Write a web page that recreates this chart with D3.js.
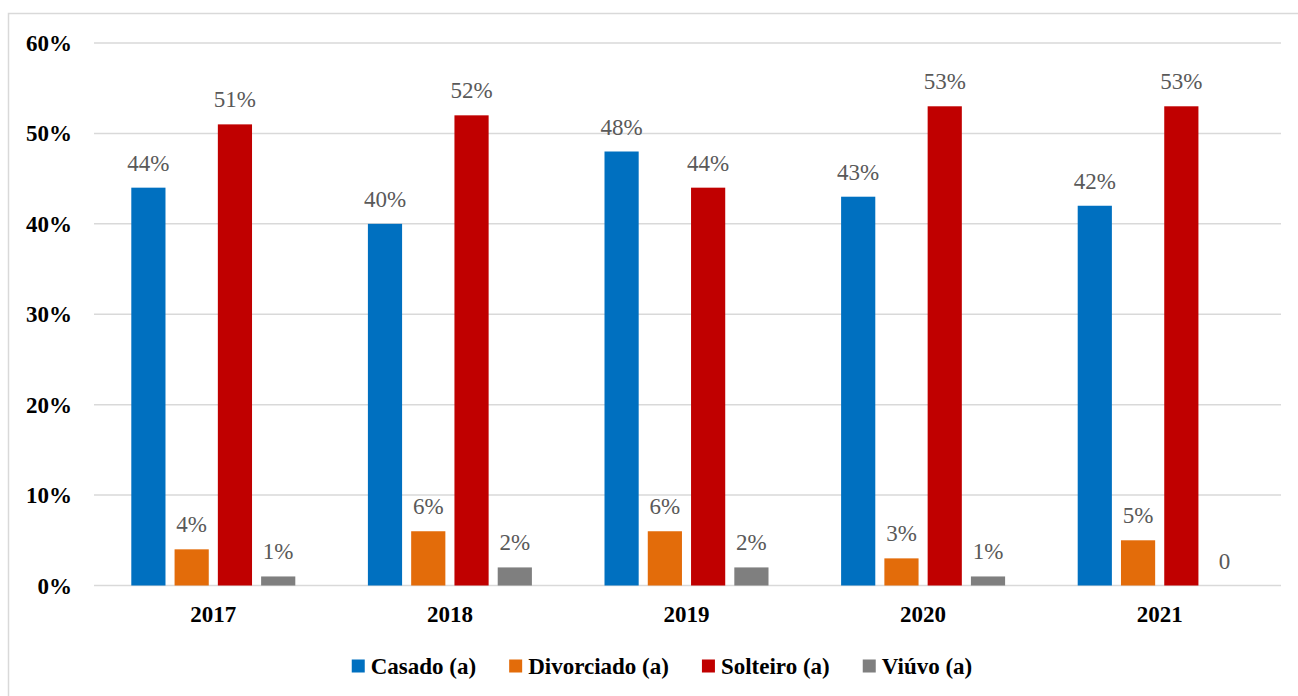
<!DOCTYPE html>
<html>
<head>
<meta charset="utf-8">
<script src="https://cdn.jsdelivr.net/npm/d3@7"></script>
<style>
    body { margin: 0; background: #fff; }
</style>
</head>
<body>
<div id="canvas"></div>
<script>
/**
 * Chart data
 */
const years = ["2017", "2018", "2019", "2020", "2021"];
const seriesNames = ["Casado (a)", "Divorciado (a)", "Solteiro (a)", "Viúvo (a)"];
const seriesColors = ["#0070C0", "#E36C0A", "#C00000", "#7F7F7F"];
const casado = [44, 40, 48, 43, 42];
const divorciado = [4, 6, 6, 3, 5];
const solteiro = [51, 52, 44, 53, 53];
const viuvo = [1, 2, 2, 1, 0];
const yTicks = [0, 10, 20, 30, 40, 50, 60];

const seriesValues = [casado, divorciado, solteiro, viuvo];

const width = 1298;
const height = 696;
const fontFamily = "'Liberation Serif'";

let svg = d3.select("#canvas")
    .append("svg")
    .attr("width", width)
    .attr("height", height);

// outer frame (only left and top edges visible)
svg.append("rect")
    .attr("x", 8.5)
    .attr("y", 13.5)
    .attr("width", 1310)
    .attr("height", 720)
    .attr("fill", "none")
    .attr("stroke", "#d9d9d9")
    .attr("stroke-width", 1.5);

let y = d3.scaleLinear()
    .domain([0, 60])
    .range([585.5, 43]);

let x = d3.scaleBand()
    .domain(years)
    .range([95, 1278]);

let xInner = d3.scaleBand()
    .domain(seriesNames)
    .range([-82, 82])
    .paddingInner(0.21);

// gridlines
svg.append("g")
    .selectAll("line")
    .data(yTicks)
    .enter()
    .append("line")
    .attr("x1", 94)
    .attr("x2", 1281)
    .attr("y1", d => y(d))
    .attr("y2", d => y(d))
    .attr("stroke", "#d9d9d9")
    .attr("stroke-width", 1.5);

// y tick labels
svg.append("g")
    .selectAll("text")
    .data(yTicks)
    .enter()
    .append("text")
    .attr("x", 72)
    .attr("y", d => y(d))
    .attr("dy", "0.35em")
    .attr("text-anchor", "end")
    .style("font-family", fontFamily)
    .style("font-size", "23px")
    .style("font-weight", "bold")
    .attr("fill", "#000")
    .text(d => d + "%");

// x category labels
svg.append("g")
    .selectAll("text")
    .data(years)
    .enter()
    .append("text")
    .attr("x", d => x(d) + x.bandwidth() / 2)
    .attr("y", 622)
    .attr("text-anchor", "middle")
    .style("font-family", fontFamily)
    .style("font-size", "23px")
    .style("font-weight", "bold")
    .attr("fill", "#000")
    .text(d => d);

// bars + labels
seriesNames.forEach((name, si) => {
    let g = svg.append("g");
    let rows = years.map((yr, i) => ({ year: yr, value: seriesValues[si][i] }));

    g.selectAll("rect")
        .data(rows.filter(d => d.value > 0))
        .enter()
        .append("rect")
        .attr("x", d => x(d.year) + x.bandwidth() / 2 + xInner(name))
        .attr("width", xInner.bandwidth())
        .attr("y", d => y(d.value))
        .attr("height", d => y(0) - y(d.value))
        .attr("fill", seriesColors[si]);

    g.selectAll("text")
        .data(rows)
        .enter()
        .append("text")
        .attr("x", d => x(d.year) + x.bandwidth() / 2 + xInner(name) + xInner.bandwidth() / 2)
        .attr("y", d => y(d.value) - 17)
        .attr("text-anchor", "middle")
        .style("font-family", fontFamily)
        .style("font-size", "23px")
        .attr("fill", "#595959")
        .text(d => d.value === 0 ? "0" : d.value + "%");
});

// legend
let legend = svg.append("g");
let items = legend.selectAll("g")
    .data(seriesNames)
    .enter()
    .append("g");

items.append("rect")
    .attr("width", 13)
    .attr("height", 13)
    .attr("y", -6.5)
    .attr("fill", (d, i) => seriesColors[i]);

items.append("text")
    .attr("x", 19)
    .attr("dy", "0.35em")
    .style("font-family", fontFamily)
    .style("font-size", "23px")
    .style("font-weight", "bold")
    .attr("fill", "#000")
    .text(d => d);

// lay out legend items horizontally, centered
const legendGap = 33;
let offsets = [];
let cursor = 0;
items.each(function () {
    offsets.push(cursor);
    let w = d3.select(this).select("text").node().getComputedTextLength();
    cursor += 19 + w + legendGap;
});
let total = cursor - legendGap;
let startX = 662 - total / 2;
items.attr("transform", (d, i) => "translate(" + (startX + offsets[i]) + ",666)");
</script>
</body>
</html>
